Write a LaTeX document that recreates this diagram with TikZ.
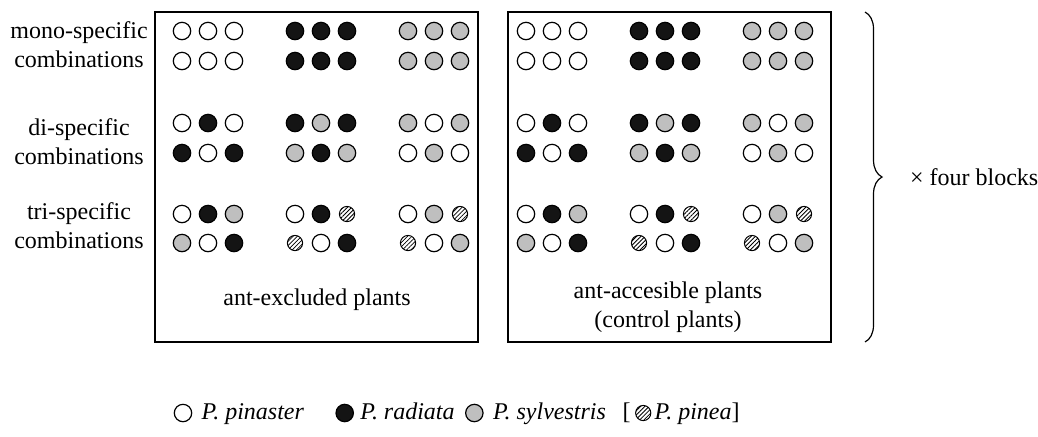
\documentclass[tikz,border=0pt]{standalone}
\usepackage{fontspec}
\setmainfont{Liberation Serif}
\usepackage{tikz}
\usetikzlibrary{positioning}
\usetikzlibrary{patterns.meta}
\usetikzlibrary{decorations.pathreplacing}
\colorlet{radcol}{black!92}
\colorlet{sylcol}{black!25}
\tikzset{
  pine/.style={circle, draw, line width=0.6pt, inner sep=0pt, minimum size=8.7pt},
  pnst/.style={pine, fill=white},
  prad/.style={pine, fill=radcol},
  psyl/.style={pine, fill=sylcol},
  ppin/.style={pine, minimum size=7.6pt, line width=0.5pt,
    pattern={Lines[angle=45, distance=1.5pt, line width=0.4pt]}},
  legtext/.style={inner sep=0pt, text height=1.8ex, text depth=0.4ex},
  rowlabel/.style={align=center}
}

\begin{document}
\begin{tikzpicture}[x=0.5pt, y=-0.5pt, font=\fontsize{12}{14.5}\selectfont]

\useasboundingbox (0,0) rectangle (1038,436);

% Boxes
\draw[line width=1pt] (155,12) rectangle (478,342);
\draw[line width=1pt] (508,12) rectangle (831,342);

% Row labels
\node[rowlabel] (mono) at (79,45) {mono-specific\\combinations};
\node[rowlabel] (di) at (79,142) {di-specific\\combinations};
\node[rowlabel] (tri) at (79,226) {tri-specific\\combinations};

% Seedlings, three groups of three per row
\foreach \bx/\ox in {ex/182, ac/526}
  \foreach \ry/\combo [count=\r] in {
      31/{pnst,pnst,pnst,prad,prad,prad,psyl,psyl,psyl},
      61/{pnst,pnst,pnst,prad,prad,prad,psyl,psyl,psyl},
      123/{pnst,prad,pnst,prad,psyl,prad,psyl,pnst,psyl},
      153/{prad,pnst,prad,psyl,prad,psyl,pnst,psyl,pnst},
      214/{pnst,prad,psyl,pnst,prad,ppin,pnst,psyl,ppin},
      243/{psyl,pnst,prad,ppin,pnst,prad,ppin,pnst,psyl}}
    \foreach \sp [count=\k from 0] in \combo
      \node[\sp] (\bx-\r-\k) at ({\ox+26*mod(\k,3)+113*int(\k/3)}, \ry) {};

% Box captions
\node (exlab) at (317,300) {ant-excluded plants};
\node[align=center] (aclab) at (668,307) {ant-accesible plants\\(control plants)};

% Brace
\coordinate (bt) at (865,12);
\coordinate (bb) at (865,342);
\draw[line width=0.6pt, decorate, decoration={brace, amplitude=8.5pt}] (bt) -- (bb);
\node[anchor=west] (blocks) at (903,177) {× four blocks};

% Legend
\node[pnst] (l1) at (183,413) {};
\node[legtext, right=4.5pt of l1] (t1) {\textit{P. pinaster}};
\node[prad, right=15.5pt of t1] (l2) {};
\node[legtext, right=3pt of l2] (t2) {\textit{P. radiata}};
\node[psyl, right=5pt of t2] (l3) {};
\node[legtext, right=4.5pt of l3] (t3) {\textit{P. sylvestris}};
\node[legtext, right=8pt of t3] (t4) {[};
\node[ppin, right=2pt of t4] (l4) {};
\node[legtext, right=1.5pt of l4] (t5) {\textit{P. pinea}]};

\end{tikzpicture}
\end{document}
